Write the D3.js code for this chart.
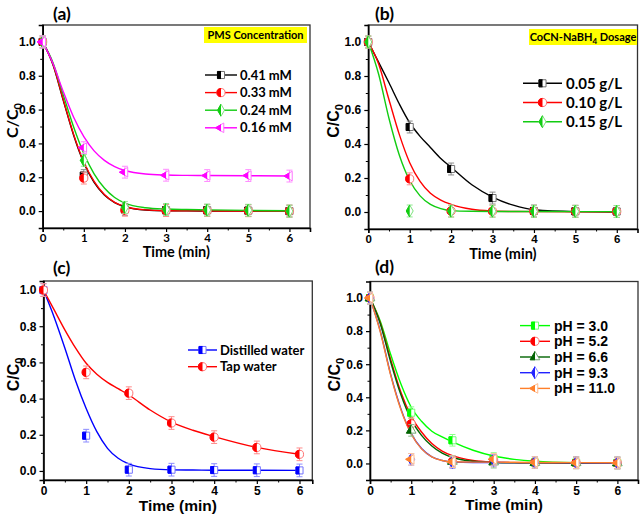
<!DOCTYPE html>
<html><head><meta charset="utf-8">
<script src="https://cdn.jsdelivr.net/npm/d3@7"></script>
<style>body{margin:0;background:#fff}svg{display:block}</style>
</head><body><svg id="c" width="640" height="519"></svg>
<script>
// ---------- data ----------
const time = [0, 1, 2, 3, 4, 5, 6];
const fitTime = [0, 0.25, 0.5, 0.75, 1, 1.25, 1.5, 1.75, 2, 2.5, 3, 3.5, 4, 5, 6];
const xTicks = [0, 1, 2, 3, 4, 5, 6];
const yTicksA = [0.0, 0.2, 0.4, 0.6, 0.8, 1.0];

// (a) PMS concentration
const aLabels = ["0.41 mM", "0.33 mM", "0.24 mM", "0.16 mM"];
const a041 = [1.0, 0.21, 0.01, 0.005, 0.005, 0.003, 0.0];
const a033 = [1.0, 0.195, 0.005, 0.003, 0.003, 0.002, 0.0];
const a024 = [1.0, 0.30, 0.022, 0.01, 0.006, 0.005, 0.0];
const a016 = [1.0, 0.375, 0.23, 0.212, 0.21, 0.21, 0.207];
const a041Fit = [1, 0.865, 0.655, 0.45, 0.285, 0.17, 0.095, 0.05, 0.025, 0.006, 0.002, 0.001, 0, 0, 0];
const a033Fit = [1, 0.868, 0.66, 0.455, 0.29, 0.175, 0.098, 0.052, 0.027, 0.007, 0.002, 0.001, 0.001, 0, 0];
const a024Fit = [1, 0.877, 0.687, 0.498, 0.34, 0.22, 0.136, 0.08, 0.047, 0.02, 0.012, 0.009, 0.007, 0.004, 0.002];
const a016Fit = [1, 0.872, 0.706, 0.556, 0.44, 0.356, 0.30, 0.263, 0.24, 0.219, 0.213, 0.211, 0.21, 0.209, 0.207];

// (b) CoCN-NaBH4 dosage
const bLabels = ["0.05 g/L", "0.10 g/L", "0.15 g/L"];
const b005 = [1.0, 0.50, 0.253, 0.082, 0.006, 0.004, 0.003];
const b010 = [1.0, 0.195, 0.006, 0.005, 0.004, 0.004, 0.003];
const b015 = [1.0, 0.006, 0.005, 0.005, 0.004, 0.004, 0.003];
const b005Fit = [1, 0.88, 0.76, 0.635, 0.525, 0.445, 0.38, 0.315, 0.263, 0.16, 0.088, 0.04, 0.013, 0.002, 0];
const b010Fit = [1, 0.87, 0.66, 0.455, 0.29, 0.18, 0.11, 0.07, 0.045, 0.016, 0.006, 0.003, 0.002, 0.001, 0.001];
const b015Fit = [1, 0.81, 0.55, 0.334, 0.185, 0.095, 0.045, 0.02, 0.008, 0.004, 0.003, 0.003, 0.003, 0.002, 0.002];

// (c) water matrix
const cLabels = ["Distilled water", "Tap water"];
const cDist = [1.0, 0.195, 0.007, 0.007, 0.005, 0.004, 0.003];
const cTap = [1.0, 0.545, 0.43, 0.265, 0.187, 0.13, 0.092];
const cDistFit = [1, 0.85, 0.68, 0.5, 0.345, 0.217, 0.125, 0.07, 0.039, 0.013, 0.006, 0.005, 0.004, 0.004, 0.003];
const cTapFit = [1, 0.89, 0.78, 0.68, 0.595, 0.535, 0.49, 0.455, 0.42, 0.337, 0.27, 0.225, 0.19, 0.13, 0.092];

// (d) pH
const dLabels = ["pH = 3.0", "pH = 5.2", "pH = 6.6", "pH = 9.3", "pH = 11.0"];
const d30 = [1.0, 0.307, 0.14, 0.03, 0.006, 0.004, 0.003];
const d52 = [1.0, 0.24, 0.012, 0.02, 0.006, 0.004, 0.003];
const d66 = [1.0, 0.20, 0.012, 0.008, 0.005, 0.004, 0.003];
const d93 = [1.0, 0.025, 0.005, 0.02, 0.006, 0.004, 0.003];
const d110 = [1.0, 0.025, 0.01, 0.025, 0.006, 0.004, 0.003];
const d30Fit = [1, 0.86, 0.66, 0.48, 0.34, 0.255, 0.195, 0.16, 0.13, 0.08, 0.045, 0.025, 0.013, 0.004, 0.002];
const d52Fit = [1, 0.85, 0.63, 0.43, 0.285, 0.19, 0.12, 0.075, 0.047, 0.018, 0.008, 0.005, 0.004, 0.003, 0.003];
const d66Fit = [1, 0.845, 0.615, 0.415, 0.265, 0.17, 0.105, 0.062, 0.036, 0.013, 0.006, 0.004, 0.004, 0.003, 0.003];
const d93Fit = [1, 0.80, 0.54, 0.33, 0.18, 0.09, 0.04, 0.018, 0.009, 0.006, 0.006, 0.005, 0.005, 0.004, 0.003];
const d110Fit = [1, 0.795, 0.535, 0.325, 0.178, 0.088, 0.04, 0.018, 0.01, 0.008, 0.008, 0.007, 0.006, 0.005, 0.004];

const errBar = 0.035;

// ---------- styles ----------
const CAL = "Lato, 'Open Sans', sans-serif";
const ARI = "'Liberation Sans', Arial, sans-serif";

const svg = d3.select("#c");
const defs = svg.append("defs");
defs.append("clipPath").attr("id", "lh").append("rect")
  .attr("x", -12).attr("y", -12).attr("width", 12).attr("height", 24);

const symbolPath = {
  square: d3.symbol(d3.symbolSquare, 50)(),
  circle: d3.symbol(d3.symbolCircle, 52)(),
  diamond: d3.symbol(d3.symbolDiamond, 42)(),
  triangle: d3.symbol(d3.symbolTriangle, 40)(),
  ltriangle: d3.symbol(d3.symbolTriangle, 40)()
};
function lighten(c, t) { return d3.interpolateRgb(c, "#fff")(t); }

function drawMarker(parent, x, y, shape, color) {
  const g = parent.append("g").attr("transform", `translate(${x},${y})`);
  const rot = shape === "ltriangle" ? "rotate(-90)" : null;
  g.append("path").attr("d", symbolPath[shape]).attr("transform", rot)
    .attr("fill", "#fff").attr("stroke", lighten(color, 0.45)).attr("stroke-width", 1);
  g.append("g").attr("clip-path", "url(#lh)")
    .append("path").attr("d", symbolPath[shape]).attr("transform", rot)
    .attr("fill", color).attr("stroke", color).attr("stroke-width", 1);
}

const panels = [
  { title: "(a)", tx: 53, ty: 20, L: 42.7, R: 310, T: 25, B: 228, xmax: 6.5, ymin: -0.1, ymax: 1.1,
    xtFont: CAL, xtSize: 11.5, ytFont: ARI, ytSize: 12, xlabFont: CAL, xlabSize: 14.5, xlabY: 257, ylabX: 13, ylabFont: CAL,
    box: { x: 204, y: 27, w: 103, h: 16, parts: [["PMS Concentration", false]] },
    legend: { x1: 205, x2: 237, tx: 240, y0: 75, dy: 17.6, font: CAL, size: 13 },
    series: [
      { label: aLabels[0], vals: a041, fit: a041Fit, color: "#000000", shape: "square" },
      { label: aLabels[1], vals: a033, fit: a033Fit, color: "#ff0000", shape: "circle" },
      { label: aLabels[2], vals: a024, fit: a024Fit, color: "#11cc11", shape: "diamond" },
      { label: aLabels[3], vals: a016, fit: a016Fit, color: "#ff00ff", shape: "ltriangle" }
    ] },
  { title: "(b)", tx: 375, ty: 20, L: 368.3, R: 637.5, T: 25, B: 229, xmax: 6.5, ymin: -0.1, ymax: 1.1,
    xtFont: ARI, xtSize: 11.5, ytFont: ARI, ytSize: 12, xlabFont: CAL, xlabSize: 14.5, xlabY: 259, ylabX: 334, ylabFont: ARI,
    box: { x: 529, y: 29, w: 108, h: 16, parts: [["CoCN-NaBH", false], ["4", true], [" Dosage", false]] },
    legend: { x1: 523, x2: 562, tx: 566, y0: 83.3, dy: 19.2, font: CAL, size: 15 },
    series: [
      { label: bLabels[0], vals: b005, fit: b005Fit, color: "#000000", shape: "square" },
      { label: bLabels[1], vals: b010, fit: b010Fit, color: "#ff0000", shape: "circle" },
      { label: bLabels[2], vals: b015, fit: b015Fit, color: "#11cc11", shape: "diamond" }
    ] },
  { title: "(c)", tx: 53, ty: 274, L: 43.5, R: 312.3, T: 281, B: 480, xmax: 6.3, ymin: -0.05, ymax: 1.05,
    xtFont: ARI, xtSize: 12, ytFont: ARI, ytSize: 12, xlabFont: ARI, xlabSize: 15.5, xlabY: 511, ylabX: 14, ylabFont: ARI,
    legend: { x1: 188, x2: 217, tx: 220, y0: 350, dy: 16.7, font: CAL, size: 13 },
    series: [
      { label: cLabels[0], vals: cDist, fit: cDistFit, color: "#0000ff", shape: "square" },
      { label: cLabels[1], vals: cTap, fit: cTapFit, color: "#ff0000", shape: "circle" }
    ] },
  { title: "(d)", tx: 375, ty: 273, L: 370, R: 638, T: 281.5, B: 480, xmax: 6.5, ymin: -0.1, ymax: 1.1,
    xtFont: ARI, xtSize: 12, ytFont: ARI, ytSize: 12, xlabFont: ARI, xlabSize: 15.5, xlabY: 510, ylabX: 335, ylabFont: ARI,
    legend: { x1: 520, x2: 550, tx: 554, y0: 325.6, dy: 15.7, font: ARI, size: 14 },
    series: [
      { label: dLabels[0], vals: d30, fit: d30Fit, color: "#00ff00", shape: "square" },
      { label: dLabels[1], vals: d52, fit: d52Fit, color: "#ff0000", shape: "circle" },
      { label: dLabels[2], vals: d66, fit: d66Fit, color: "#006400", shape: "triangle" },
      { label: dLabels[3], vals: d93, fit: d93Fit, color: "#2222ff", shape: "diamond" },
      { label: dLabels[4], vals: d110, fit: d110Fit, color: "#ff7f2a", shape: "ltriangle" }
    ] }
];

panels.forEach(p => {
  const x = d3.scaleLinear().domain([0, p.xmax]).range([p.L, p.R]);
  const y = d3.scaleLinear().domain([p.ymin, p.ymax]).range([p.B, p.T]);
  const g = svg.append("g");

  // frame
  g.append("rect").attr("x", p.L).attr("y", p.T).attr("width", p.R - p.L).attr("height", p.B - p.T)
    .attr("fill", "none").attr("stroke", "#333").attr("stroke-width", 1.3);

  // x axis
  const xAx = g.append("g").attr("transform", `translate(0,${p.B})`)
    .call(d3.axisBottom(x).tickValues(xTicks).tickSize(4).tickPadding(2).tickFormat(d3.format("d")));
  xAx.select(".domain").attr("stroke", "#000").attr("stroke-width", 1.6);
  xAx.selectAll(".tick line").attr("stroke-width", 1.2);
  xAx.selectAll("text").attr("font-family", p.xtFont).attr("font-weight", "bold").attr("font-size", p.xtSize).attr("fill", "#000");
  const xMinor = g.append("g").attr("transform", `translate(0,${p.B})`)
    .call(d3.axisBottom(x).tickValues([0.5, 1.5, 2.5, 3.5, 4.5, 5.5]).tickSize(2.5).tickFormat(""));
  xMinor.select(".domain").remove();

  // y axis
  const yAx = g.append("g").attr("transform", `translate(${p.L},0)`)
    .call(d3.axisLeft(y).tickValues(yTicksA).tickSize(4).tickPadding(3).tickFormat(d3.format(".1f")));
  yAx.select(".domain").attr("stroke", "#000").attr("stroke-width", 1.6);
  yAx.selectAll(".tick line").attr("stroke-width", 1.2);
  yAx.selectAll("text").attr("font-family", p.ytFont).attr("font-weight", "bold").attr("font-size", p.ytSize).attr("fill", "#000");
  const yMinor = g.append("g").attr("transform", `translate(${p.L},0)`)
    .call(d3.axisLeft(y).tickValues([0.1, 0.3, 0.5, 0.7, 0.9]).tickSize(2.5).tickFormat(""));
  yMinor.select(".domain").remove();

  // axis titles
  g.append("text").attr("x", (p.L + p.R) / 2).attr("y", p.xlabY).attr("text-anchor", "middle")
    .attr("font-family", p.xlabFont).attr("font-weight", "bold").attr("font-size", p.xlabSize).text("Time (min)");
  const yl = g.append("text").attr("transform", `translate(${p.ylabX + 5},${(p.T + p.B) / 2 - 6}) rotate(-90)`)
    .attr("text-anchor", "middle").attr("font-family", p.ylabFont).attr("font-weight", "bold").attr("font-size", 16);
  yl.append("tspan").text("C/C");
  yl.append("tspan").attr("font-size", 11).attr("dy", 4).text("0");

  // panel title
  g.append("text").attr("x", p.tx).attr("y", p.ty).attr("font-family", CAL).attr("font-weight", "bold")
    .attr("font-size", 17.5).text(p.title);

  // yellow box
  if (p.box) {
    g.append("rect").attr("x", p.box.x).attr("y", p.box.y).attr("width", p.box.w).attr("height", p.box.h).attr("fill", "#ffff00");
    const t = g.append("text").attr("x", p.box.x + p.box.w / 2).attr("y", p.box.y + 12).attr("text-anchor", "middle")
      .attr("font-family", CAL).attr("font-weight", "bold").attr("font-size", 11);
    p.box.parts.forEach(([s, sub]) => {
      const ts = t.append("tspan").text(s);
      if (sub) ts.attr("font-size", 8).attr("dy", 3);
      else if (t.selectAll("tspan").size() > 1) ts.attr("dy", -3);
    });
  }

  // fitted curves
  const line = d3.line().x((d, i) => x(fitTime[i])).y(d => y(d)).curve(d3.curveMonotoneX);
  p.series.forEach(s => {
    g.append("path").attr("d", line(s.fit)).attr("fill", "none").attr("stroke", s.color).attr("stroke-width", 1.4);
  });

  // error bars + markers
  p.series.forEach(s => {
    const lc = lighten(s.color, 0.55);
    s.vals.forEach((v, i) => {
      const cx = x(time[i]), y1 = y(v - errBar), y2 = y(v + errBar);
      g.append("line").attr("x1", cx).attr("x2", cx).attr("y1", y1).attr("y2", y2).attr("stroke", lc).attr("stroke-width", 1);
      [y1, y2].forEach(yy => g.append("line").attr("x1", cx - 3).attr("x2", cx + 3).attr("y1", yy).attr("y2", yy)
        .attr("stroke", lc).attr("stroke-width", 1));
    });
    s.vals.forEach((v, i) => drawMarker(g, x(time[i]), y(v), s.shape, s.color));
  });

  // legend
  const lg = p.legend;
  p.series.forEach((s, i) => {
    const yy = lg.y0 + i * lg.dy;
    g.append("line").attr("x1", lg.x1).attr("x2", lg.x2).attr("y1", yy).attr("y2", yy).attr("stroke", s.color).attr("stroke-width", 1.4);
    drawMarker(g, (lg.x1 + lg.x2) / 2, yy, s.shape, s.color);
    g.append("text").attr("x", lg.tx).attr("y", yy + lg.size * 0.36).attr("font-family", lg.font)
      .attr("font-weight", "bold").attr("font-size", lg.size).text(s.label);
  });
});
</script>
</body></html>
